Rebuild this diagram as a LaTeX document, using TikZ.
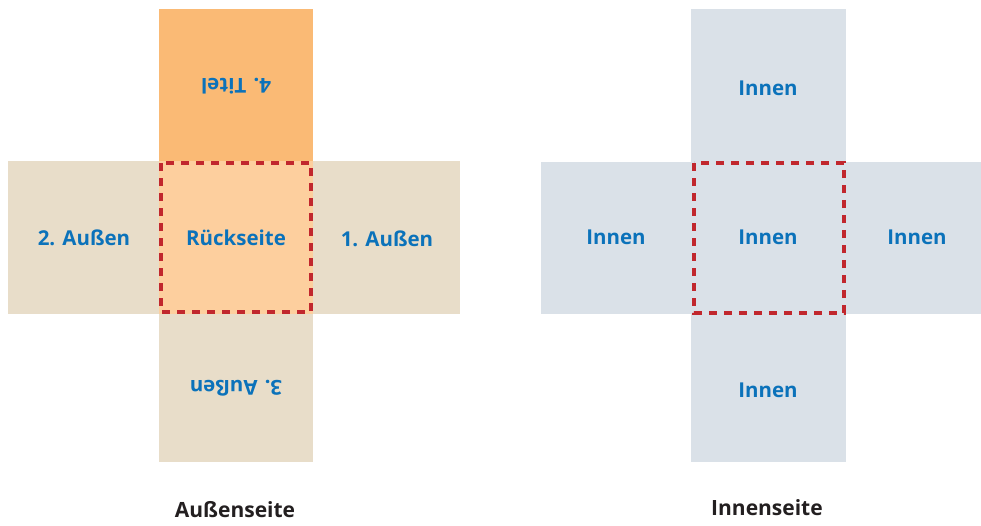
\documentclass[tikz,border=0pt]{standalone}
\usepackage{fontspec}
\setmainfont{Open Sans}
\definecolor{topor}{HTML}{FABA75}
\definecolor{centor}{HTML}{FDCF9E}
\definecolor{beige}{HTML}{E8DDC9}
\definecolor{grayb}{HTML}{DAE1E8}
\definecolor{txtblue}{HTML}{0B72BA}
\definecolor{dashred}{HTML}{C1272D}
\definecolor{captxt}{HTML}{231F20}
\tikzset{
  lab/.style={text=txtblue, font=\bfseries\fontsize{20.5}{24}\selectfont, inner sep=0pt},
  captext/.style={text=captxt, font=\bfseries\fontsize{21}{25}\selectfont, inner sep=0pt},
  fold/.style={draw=dashred, line width=3.2pt, dash pattern=on 8pt off 7pt}
}
\begin{document}
\begin{tikzpicture}[x=1pt,y=-1pt]
\useasboundingbox (0,0) rectangle (981,525);
% left cross
\fill[beige] (8,161) rectangle (460,314);
\fill[beige] (159,314) rectangle (313,462);
\fill[topor] (159,9) rectangle (313,161);
\fill[centor] (159,161) rectangle (313,314);
\draw[fold] (161,163) rectangle (311,312);
% right cross
\fill[grayb] (541,162) rectangle (981,314);
\fill[grayb] (691,9) rectangle (846,462);
\draw[fold] (694,163) rectangle (844,313);
% labels left
\node[lab, rotate=180] (titel) at (236,86) {4. Titel};
\node[lab] (rueck) at (236,238) {Rückseite};
\node[lab] (aussen1) at (387,239) {1. Außen};
\node[lab] (aussen2) at (84,238) {2. Außen};
\node[lab, rotate=180] (aussen3) at (236,388) {3. Außen};
% labels right
\node[lab] (in1) at (768,88) {Innen};
\node[lab] (in2) at (616,237) {Innen};
\node[lab] (in3) at (768,237) {Innen};
\node[lab] (in4) at (917,237) {Innen};
\node[lab] (in5) at (768,390) {Innen};
% captions
\node[captext] (capA) at (235,510) {Außenseite};
\node[captext] (capI) at (767,508) {Innenseite};
\end{tikzpicture}
\end{document}
